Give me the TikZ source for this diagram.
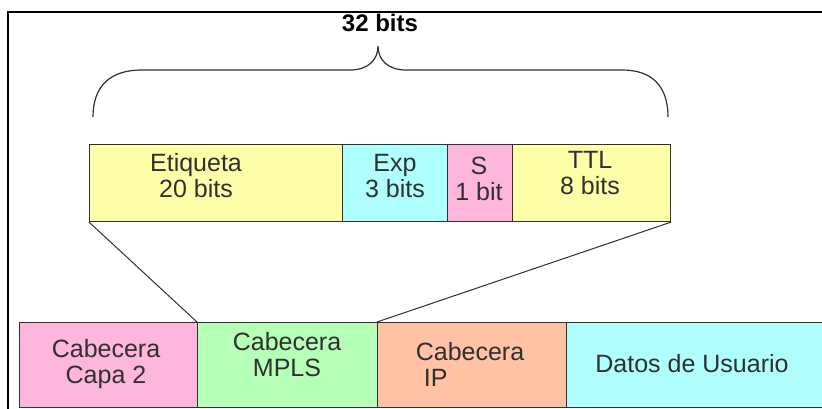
\documentclass[tikz,border=0pt]{standalone}
\usepackage{fontspec}
\setmainfont{Liberation Sans}
\definecolor{fyellow}{HTML}{FFFFAA}
\definecolor{fcyan}{HTML}{B0FFFF}
\definecolor{fpink}{HTML}{FFB6DC}
\definecolor{fgreen}{HTML}{B6FFB6}
\definecolor{forange}{HTML}{FFC2A4}
\definecolor{ink}{HTML}{303030}
\tikzset{
  field/.style={draw=ink, line width=1.1pt, anchor=north west, inner sep=0pt},
  toprow/.style={field, minimum height=77pt},
  botrow/.style={field, minimum height=85pt},
  lbl/.style={align=center, text=ink, inner sep=0pt,
    font=\fontsize{25}{26}\selectfont},
  link/.style={draw=ink, line width=1pt},
}
\begin{document}
\begin{tikzpicture}[x=1pt, y=-1pt]
  \useasboundingbox (0,0) rectangle (822,409);
  \clip (0,0) rectangle (822,409);
  \fill[white] (0,0) rectangle (822,409);

  % outer frame (left and top edges)
  \draw[black, line width=2pt] (8,420) -- (8,12) -- (830,12);

  % width label and brace
  \node[lbl, font=\bfseries\fontsize{24}{26}\selectfont, text=black] (title) at (380,23) {32 bits};
  \draw[ink, line width=1.2pt]
    (93,117) .. controls (93,86) and (110,70) .. (142,70) -- (350,70)
    .. controls (368,70) and (378,60) .. (378,46)
    .. controls (378,60) and (388,70) .. (406,70) -- (622,70)
    .. controls (652,70) and (668,86) .. (668,117);

  % MPLS label fields
  \node[toprow, fill=fyellow, minimum width=253pt] (etq) at (89,144) {};
  \node[toprow, fill=fcyan,   minimum width=105pt] (exp) at (342,144) {};
  \node[toprow, fill=fpink,   minimum width=65pt]  (s)   at (447,144) {};
  \node[toprow, fill=fyellow, minimum width=158pt] (ttl) at (512,144) {};

  \node[lbl] (etqt) at (196,176) {Etiqueta\\20 bits};
  \node[lbl] (expt) at (395,176) {Exp\\3 bits};
  \node[lbl] (st)   at (479,179) {S\\1 bit};
  \node[lbl] (ttlt) at (590,173) {TTL\\8 bits};

  % packet headers
  \node[botrow, fill=fpink,   minimum width=178pt] (l2)   at (19,322) {};
  \node[botrow, fill=fgreen,  minimum width=180pt] (mpls) at (197,322) {};
  \node[botrow, fill=forange, minimum width=189pt] (ip)   at (377,322) {};
  \node[botrow, fill=fcyan,   minimum width=270pt] (data) at (566,322) {};

  \node[lbl] (l2t)   at (106,364) {Cabecera\\Capa 2};
  \node[lbl] (mplst) at (287,355) {Cabecera\\MPLS};
  \node[lbl, align=left] (ipt) at (470,364) {Cabecera\\\hspace{8pt}IP};
  \node[lbl] (datat) at (692,364) {Datos de Usuario};

  % expansion lines from the MPLS header to its fields
  \draw[link] (etq.south west) -- (mpls.north west);
  \draw[link] (ttl.south east) -- (ip.north west);
\end{tikzpicture}
\end{document}
